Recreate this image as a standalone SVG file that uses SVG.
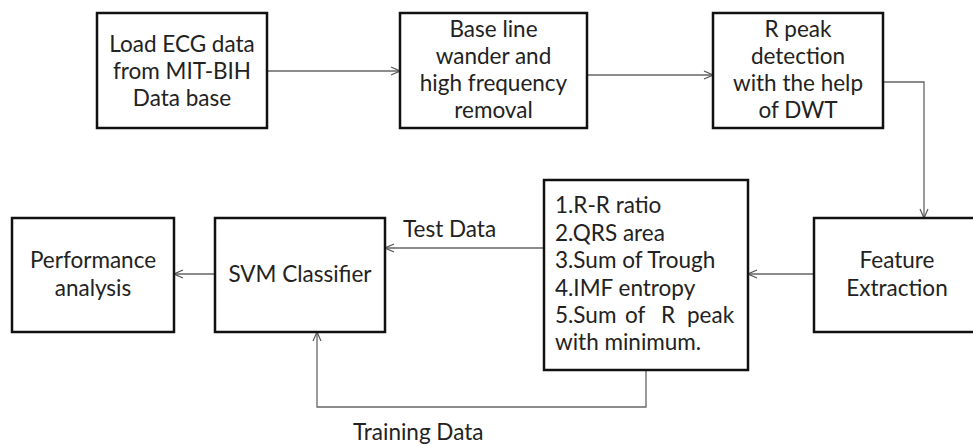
<svg xmlns="http://www.w3.org/2000/svg" width="973" height="445" viewBox="0 0 973 445">
<defs>
<marker id="arr" viewBox="0 0 10 10" refX="10" refY="5" markerWidth="10" markerHeight="10" markerUnits="userSpaceOnUse" orient="auto">
<path d="M1,1 L10,5 L1,9" fill="none" stroke="#555" stroke-width="1.2"/>
</marker>
<style>
.box{fill:#fff;stroke:#111;stroke-width:2.5}
.t{font-family:Lato,"Open Sans","Liberation Sans",sans-serif;font-size:22.5px;fill:#222}
.c{text-anchor:middle}
.ln{fill:none;stroke:#666;stroke-width:1.3}
</style>
</defs>
<rect width="973" height="445" fill="#fff"/>
<g id="connectors">
<line class="ln" x1="267" y1="71" x2="400" y2="71" marker-end="url(#arr)"/>
<line class="ln" x1="587" y1="75" x2="713" y2="75" marker-end="url(#arr)"/>
<polyline class="ln" points="883,82 924,82 924,218" marker-end="url(#arr)"/>
<line class="ln" x1="814" y1="274" x2="748" y2="274" marker-end="url(#arr)"/>
<line class="ln" x1="544" y1="248" x2="385" y2="248" marker-end="url(#arr)"/>
<line class="ln" x1="215" y1="274" x2="174" y2="274" marker-end="url(#arr)"/>
<polyline class="ln" points="646,370 646,407 317,407 317,332" marker-end="url(#arr)"/>
<text class="t" x="403" y="237">Test Data</text>
<text class="t" x="353" y="440">Training Data</text>
</g>
<g id="load">
<rect class="box" x="97" y="13" width="170" height="115"/>
<text class="t c" x="182" y="52">Load ECG data</text>
<text class="t c" x="182" y="79">from MIT-BIH</text>
<text class="t c" x="182" y="106">Data base</text>
</g>
<g id="baseline">
<rect class="box" x="400" y="13" width="187" height="115"/>
<text class="t c" x="493.5" y="37">Base line</text>
<text class="t c" x="493.5" y="64">wander and</text>
<text class="t c" x="493.5" y="91">high frequency</text>
<text class="t c" x="493.5" y="118">removal</text>
</g>
<g id="rpeak">
<rect class="box" x="713" y="13" width="170" height="115"/>
<text class="t c" x="798" y="37">R peak</text>
<text class="t c" x="798" y="64">detection</text>
<text class="t c" x="798" y="91">with the help</text>
<text class="t c" x="798" y="118">of DWT</text>
</g>
<g id="feature">
<rect class="box" x="814" y="218" width="170" height="114"/>
<text class="t c" x="897" y="268">Feature</text>
<text class="t c" x="897" y="296">Extraction</text>
</g>
<g id="features">
<rect class="box" x="544" y="180" width="204" height="190"/>
<text class="t" x="555" y="213">1.R-R ratio</text>
<text class="t" x="555" y="241">2.QRS area</text>
<text class="t" x="555" y="268">3.Sum of Trough</text>
<text class="t" x="555" y="296">4.IMF entropy</text>
<text class="t" y="323"><tspan x="555">5.Sum</tspan><tspan x="625">of</tspan><tspan x="661">R</tspan><tspan x="687">peak</tspan></text>
<text class="t" x="555" y="350">with minimum.</text>
</g>
<g id="svm">
<rect class="box" x="215" y="218" width="170" height="114"/>
<text class="t c" x="300" y="282">SVM Classifier</text>
</g>
<g id="performance">
<rect class="box" x="12" y="218" width="162" height="114"/>
<text class="t c" x="93" y="268">Performance</text>
<text class="t c" x="93" y="296">analysis</text>
</g>
</svg>
